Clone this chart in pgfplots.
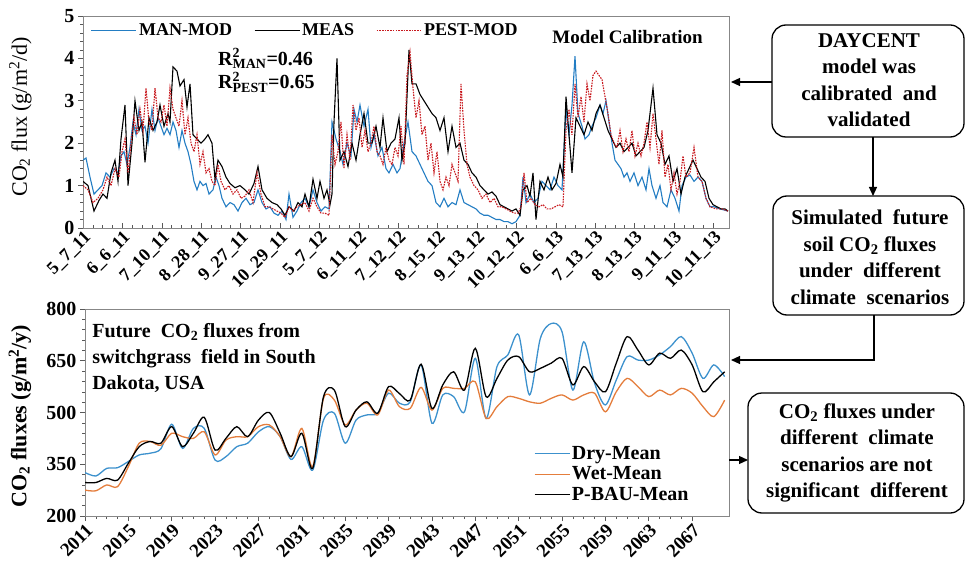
\documentclass[border=0pt]{standalone}
\usepackage{fontspec}
\setmainfont{Liberation Serif}
\usepackage{pgfplots}
\usepackage{pgfplotstable}
\pgfplotsset{compat=1.18}
\usetikzlibrary{arrows.meta}

\definecolor{manblue}{RGB}{35,125,195}
\definecolor{pestred}{RGB}{200,25,30}
\definecolor{drymean}{RGB}{60,145,205}
\definecolor{wetmean}{RGB}{228,125,60}
\definecolor{framegray}{RGB}{135,135,135}

\newcommand{\fs}[1]{\fontsize{#1}{#1}\selectfont}

% Daily soil CO2 flux (g/m2/d); x = position along the 2011-2013 sampling record
\pgfplotstableread{
x v
0 1.6
3 1.65
7 1.2
11 0.8
15 0.9
19 1.0
23 1.3
27 1.2
31 1.4
35 1.3
38 1.7
41 1.8
44 1.5
47 1.9
50 2.5
53 2.2
56 2.8
59 2.3
62 2.4
65 2.0
69 2.8
72 2.3
75 2.6
78 2.4
81 2.2
84 2.35
87 2.2
90 2.5
93 2.3
96 1.9
99 2.3
102 2.0
105 1.8
108 1.5
111 1.1
114 0.9
117 1.1
120 1.0
123 1.05
126 0.8
130 0.9
133 1.2
136 1.0
139 0.7
143 0.5
147 0.6
151 0.55
155 0.4
159 0.6
163 0.7
167 0.55
171 0.6
175 0.9
179 0.6
183 0.45
187 0.5
191 0.35
195 0.3
199 0.4
203 0.2
206 0.8
210 0.25
214 0.4
218 0.6
222 0.7
226 0.5
230 0.9
234 0.6
238 0.4
242 0.5
246 0.45
249 2.5
253 2.1
257 1.8
260 1.5
264 2.0
268 1.7
271 2.8
274 2.5
277 2.9
281 2.4
285 2.8
288 1.9
291 2.2
295 1.7
299 1.9
303 1.4
306 1.3
310 1.5
314 1.3
317 1.4
321 2.0
325 2.5
329 1.8
333 1.7
337 1.5
341 1.3
345 1.1
349 1.0
353 0.6
357 0.5
361 0.7
365 0.5
369 0.6
373 0.55
377 0.9
381 0.6
385 0.55
389 0.5
393 0.45
397 0.35
401 0.3
405 0.3
409 0.25
413 0.2
417 0.2
421 0.15
425 0.15
429 0.1
433 0.15
437 0.3
440 1.2
443 0.6
447 0.8
451 0.6
455 0.7
459 1.1
463 1.0
467 0.9
471 1.2
475 1.0
479 0.9
483 2.8
486 2.2
489 2.9
492 4.05
495 2.7
499 2.4
502 2.1
506 2.2
509 2.4
513 2.6
517 2.9
520 2.7
523 3.0
526 2.5
529 2.0
532 1.6
535 1.5
538 1.4
541 1.2
544 1.3
547 1.1
551 1.3
555 1.0
559 1.2
563 0.9
566 1.4
569 1.0
573 0.7
577 1.0
580 0.6
584 0.5
588 0.9
592 0.7
596 0.4
599 1.0
603 1.2
607 1.25
611 1.1
615 1.2
619 1.1
623 0.7
627 0.5
631 0.5
637 0.45
645 0.4
}\manmod

\pgfplotstableread{
x v
0 1.1
5 1.0
11 0.4
16 0.65
20 0.8
24 0.7
28 1.3
32 1.6
35 1.1
38 2.1
42 2.9
45 1.0
49 2.0
52 3.0
56 2.3
59 2.5
62 1.55
66 2.6
70 2.3
74 2.5
77 2.9
81 2.4
85 2.7
87 2.5
90 3.8
94 3.7
97 3.35
101 3.5
104 2.85
107 3.4
110 2.2
114 2.1
118 2.0
122 2.1
125 2.2
129 2.0
132 1.15
135 1.6
139 1.45
143 1.2
147 1.05
152 0.95
157 1.0
162 0.9
166 0.8
171 1.05
175 1.45
179 0.9
184 0.7
189 0.6
194 0.55
198 0.45
202 0.3
206 0.5
211 0.4
215 0.6
219 0.5
222 0.8
226 0.5
230 1.15
234 0.7
237 1.1
241 0.7
244 0.9
247 0.55
249 0.8
251 2.5
254 4.0
257 1.6
261 1.8
265 1.45
269 2.0
273 1.6
277 2.2
281 2.7
285 2.0
289 2.0
293 2.4
297 1.9
300 2.6
304 1.8
308 2.0
312 2.1
316 2.6
319 1.6
322 2.0
326 4.2
329 3.4
333 3.4
337 3.15
341 3.0
345 2.85
349 2.7
353 2.6
357 2.3
361 2.6
365 1.8
369 2.4
373 1.9
377 2.0
381 1.6
385 1.5
389 1.3
393 1.2
397 1.0
401 0.9
405 0.8
409 0.85
413 0.75
417 0.55
421 0.5
425 0.45
429 0.4
433 0.45
437 0.3
440 0.9
444 1.0
447 0.75
450 1.3
453 0.2
457 1.1
461 0.9
465 1.2
469 0.9
473 1.05
477 1.5
480 1.2
483 3.1
486 2.2
489 1.3
493 2.6
497 2.4
501 2.2
505 2.5
509 2.3
513 2.7
517 2.9
521 2.6
525 2.3
529 2.1
533 1.9
537 2.0
541 1.8
545 1.9
549 2.0
553 1.7
557 1.8
561 1.9
565 2.3
570 3.3
574 2.2
578 2.0
582 1.5
586 1.7
590 1.1
594 1.4
598 0.8
602 1.2
606 1.4
610 1.6
614 1.4
618 1.2
622 1.1
626 0.7
630 0.55
634 0.5
638 0.45
642 0.45
645 0.4
}\meas

\pgfplotstableread{
x v
0 1.0
5 0.9
10 0.6
15 0.7
20 0.9
24 1.2
28 1.0
32 1.4
36 1.2
39 1.8
42 2.1
45 1.3
48 2.0
51 2.6
54 2.2
57 2.8
60 2.3
63 3.3
66 2.5
69 2.3
72 3.3
75 2.6
78 2.5
81 2.9
84 2.4
87 3.3
90 2.8
93 2.6
96 2.4
99 3.0
102 2.2
105 2.6
108 2.0
111 1.8
114 2.2
117 1.5
120 1.8
123 1.3
126 1.4
129 1.1
132 1.0
135 1.5
138 1.1
142 0.9
146 1.0
150 0.8
154 0.9
158 0.7
162 0.75
166 0.9
170 0.6
174 1.3
178 0.8
182 0.5
186 0.5
190 0.45
194 0.4
198 0.35
202 0.25
206 0.5
210 0.4
214 0.5
218 0.55
222 0.6
226 0.4
230 0.7
234 0.5
238 0.35
242 0.35
246 0.3
249 2.2
252 1.5
255 1.8
258 2.5
261 1.4
264 2.2
267 1.6
270 2.9
273 2.3
276 2.6
279 1.9
282 2.3
285 1.8
288 2.0
291 2.4
294 1.8
297 1.7
300 1.5
303 1.9
306 1.6
309 1.5
312 1.9
315 1.7
318 2.4
321 1.5
324 3.6
327 4.15
330 3.3
333 2.6
336 3.0
339 2.2
342 2.4
345 1.6
348 2.0
351 1.3
354 1.8
357 1.1
360 0.9
363 1.2
366 1.0
369 1.5
372 1.3
375 1.1
378 3.4
381 2.3
384 1.5
387 1.2
391 1.0
395 0.9
399 0.7
403 0.8
407 0.6
411 0.7
415 0.5
419 0.5
423 0.45
427 0.4
431 0.35
435 0.35
438 0.5
441 1.3
444 0.6
448 0.7
452 0.55
456 0.5
460 0.55
464 0.45
468 0.45
472 0.5
476 0.55
480 0.5
483 2.3
486 2.8
489 2.2
492 3.4
495 2.6
498 3.1
501 2.5
504 3.4
507 3.0
510 3.6
513 3.7
516 3.6
519 3.5
522 3.1
525 2.7
528 2.2
531 2.0
534 1.9
537 2.3
540 1.8
543 2.1
546 1.8
549 2.3
552 1.7
555 2.0
558 1.7
561 2.0
564 2.5
567 1.9
570 2.7
573 2.1
576 1.5
579 2.3
582 1.2
585 1.5
588 0.9
591 1.3
594 0.8
597 1.1
600 1.7
603 1.2
607 1.3
611 1.9
615 1.2
619 1.1
623 0.7
627 0.5
633 0.45
639 0.45
645 0.4
}\pestmod

% Annual CO2 flux (g/m2/y) under three climate scenarios
\pgfplotstableread{
year dry wet pbau
2011 326 275 297
2012 316 273 297
2013 338 290 309
2014 340 285 304
2015 358 343 353
2016 377 411 401
2017 382 416 416
2018 395 405 411
2019 466 440 459
2020 396 430 401
2021 454 425 440
2022 454 444 486
2023 362 377 391
2024 372 420 425
2025 401 430 459
2026 411 430 430
2027 444 459 478
2028 459 464 500
2029 430 430 440
2030 364 372 372
2031 401 454 440
2032 333 343 338
2033 478 541 546
2034 498 536 565
2035 411 464 459
2036 478 507 507
2037 493 527 531
2038 498 493 498
2039 556 565 575
2040 527 517 555
2041 531 512 536
2042 638 573 640
2043 469 507 512
2044 551 570 580
2045 546 570 618
2046 502 570 565
2047 657 589 686
2048 483 483 546
2049 633 517 599
2050 667 546 652
2051 725 541 662
2052 551 531 618
2053 715 527 628
2054 758 541 643
2055 734 551 657
2056 565 536 580
2057 705 551 633
2058 585 556 589
2059 522 502 560
2060 594 560 643
2061 662 599 720
2062 652 575 681
2063 652 546 638
2064 667 565 672
2065 691 551 657
2066 720 570 681
2067 672 556 638
2068 599 517 560
2069 638 488 589
2070 604 536 618
}\future

\begin{document}
\begin{tikzpicture}[x=1pt,y=1pt]
\useasboundingbox (0,0) rectangle (966,563);

% ---------- calibration period ----------
\begin{axis}[
  at={(83pt,335pt)}, anchor=south west,
  width=646pt, height=212pt, scale only axis,
  xmin=0, xmax=646, ymin=0, ymax=5,
  axis line style={framegray, line width=0.8pt},
  xtick={0,39.4,78.8,118.2,157.6,197,236.4,275.8,315.2,354.6,394,433.4,472.8,512.2,551.6,591,630.4},
  xticklabels={5\_7\_11,6\_6\_11,7\_10\_11,8\_28\_11,9\_27\_11,10\_29\_11,5\_7\_12,6\_11\_12,7\_12\_12,8\_15\_12,9\_13\_12,10\_12\_12,6\_6\_13,7\_13\_13,8\_13\_13,9\_11\_13,10\_11\_13},
  minor x tick num=3,
  ytick={0,1,2,3,4,5}, minor y tick num=4,
  xtick pos=left, ytick pos=left,
  xtick align=inside, ytick align=outside,
  tick style={black!65, line width=0.6pt},
  major tick length=5pt, minor tick length=3pt,
  /pgf/number format/assume math mode=true,
  yticklabel style={font=\bfseries\fs{20}},
  xticklabel style={font=\bfseries\fs{18}, rotate=45, anchor=north east, inner sep=1pt},
  ylabel={CO\textsubscript{2} flux (g/m\textsuperscript{2}/d)},
  ylabel style={at={(axis description cs:-0.097,0.524)}, anchor=center, font=\fs{22}},
  legend columns=3,
  legend style={draw=none, fill=none, at={(0.012,0.975)}, anchor=north west,
    font=\bfseries\fs{18}, inner sep=0pt,
    /tikz/every even column/.append style={column sep=20pt}},
  legend image code/.code={\draw[#1] (0pt,0pt) -- (45pt,0pt);},
]
\addplot[manblue, line width=1.1pt] table[x=x, y=v] {\manmod};
\addlegendentry{MAN-MOD}
\addplot[black, line width=1.1pt] table[x=x, y=v] {\meas};
\addlegendentry{MEAS}
\addplot[pestred, line width=1.1pt, dash pattern=on 1.6pt off 1.1pt] table[x=x, y=v] {\pestmod};
\addlegendentry{PEST-MOD}

\node[font=\bfseries\fs{19}] at (rel axis cs:0.843,0.9) {Model Calibration};
\node[font=\bfseries\fs{20}, anchor=west, inner sep=0pt] at (rel axis cs:0.209,0.80) {R\rlap{\textsuperscript{2}}\textsubscript{MAN}=0.46};
\node[font=\bfseries\fs{20}, anchor=west, inner sep=0pt] at (rel axis cs:0.209,0.688) {R\rlap{\textsuperscript{2}}\textsubscript{PEST}=0.65};
\end{axis}

% ---------- future scenarios ----------
\begin{axis}[
  at={(85pt,47pt)}, anchor=south west,
  width=644pt, height=207pt, scale only axis,
  xmin=2011, xmax=2070.4, ymin=200, ymax=800,
  axis line style={framegray, line width=0.8pt},
  xtick={2011,2015,...,2067}, minor x tick num=3,
  ytick={200,350,...,800}, minor y tick num=4,
  xtick pos=left, ytick pos=left,
  tick align=outside,
  tick style={black!65, line width=0.6pt},
  major tick length=5pt, minor tick length=3pt,
  /pgf/number format/.cd, assume math mode=true, 1000 sep={},
  /pgfplots/.cd,
  yticklabel style={font=\bfseries\fs{20}},
  xticklabel style={font=\bfseries\fs{19}, rotate=45, anchor=north east, inner sep=1pt},
  ylabel={CO\textsubscript{2} fluxes (g/m\textsuperscript{2}/y)},
  ylabel style={at={(axis description cs:-0.101,0.483)}, anchor=center, font=\bfseries\fs{22}},
  legend cell align=left,
  legend style={draw=none, fill=none, at={(0.697,0.345)}, anchor=north west,
    font=\bfseries\fs{20}, inner sep=0pt, row sep=3pt,
    nodes={inner sep=1.5pt}},
  legend image code/.code={\draw[#1] (0pt,0pt) -- (35pt,0pt);},
]
\addplot[drymean, line width=1.3pt, smooth, tension=0.5] table[x=year, y=dry] {\future};
\addlegendentry{Dry-Mean}
\addplot[wetmean, line width=1.3pt, smooth, tension=0.5] table[x=year, y=wet] {\future};
\addlegendentry{Wet-Mean}
\addplot[black, line width=1.3pt, smooth, tension=0.5] table[x=year, y=pbau] {\future};
\addlegendentry{P-BAU-Mean}

\node[font=\bfseries\fontsize{20}{26}\selectfont, align=left, anchor=north west, inner sep=0pt]
  at (rel axis cs:0.011,0.93) {Future\ \ CO\textsubscript{2} fluxes from\\switchgrass\ \ field\ in\ South\\Dakota, USA};
\end{axis}

% ---------- workflow boxes ----------
\tikzset{flowbox/.style={draw, line width=1.3pt, rounded corners=14pt},
         flowtext/.style={font=\bfseries\fontsize{21}{26.5}\selectfont, align=center, inner sep=0pt},
         flowarrow/.style={line width=1.2pt, -{Triangle[length=9pt,width=8pt]}}}

\draw[flowbox] (772,426) rectangle (964,538);
\node[flowtext] at (869,483) {DAYCENT\\model was\\calibrated\ \ and\\validated};
\draw[flowarrow] (772,481) -- (731,481);
\draw[flowarrow] (873,426) -- (873,367);

\draw[flowbox] (773,248) rectangle (964,367);
\node[flowtext] at (870,306) {Simulated\ \ future\\soil CO\textsubscript{2} fluxes\\under\ \ different\\climate\ \ scenarios};
\draw[flowarrow] (874,248) -- (874,203) -- (731,203);

\draw[flowbox] (748,50) rectangle (964,170);
\node[flowtext] at (857,110) {CO\textsubscript{2} fluxes under\\different\ \ climate\\scenarios are not\\significant\ \ different};
\draw[flowarrow] (729,103) -- (748,103);
\end{tikzpicture}
\end{document}
